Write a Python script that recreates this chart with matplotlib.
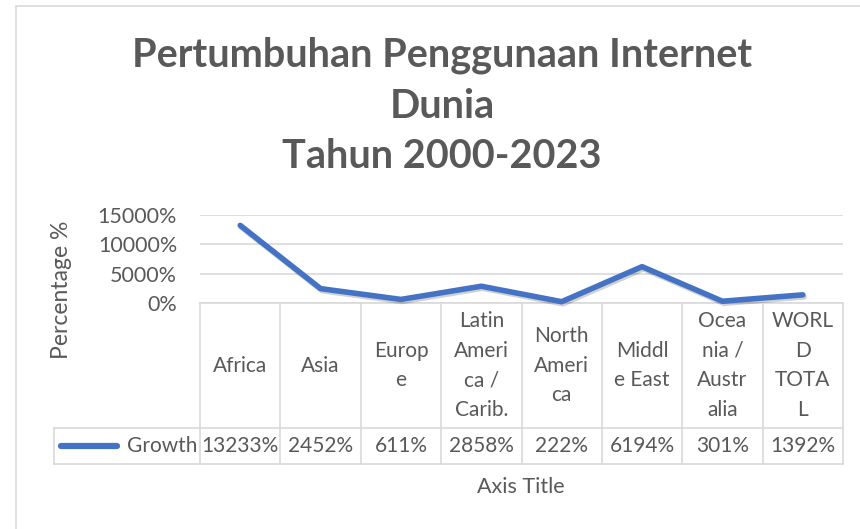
import matplotlib

matplotlib.use("Agg")
import matplotlib.pyplot as plt
import matplotlib.patheffects as pe
from matplotlib.patches import Rectangle
from matplotlib.ticker import FuncFormatter
from matplotlib.transforms import blended_transform_factory

categories = ["Africa", "Asia", "Europe", "Latin America / Carib.", "North America",
              "Middle East", "Oceania / Australia", "WORLD TOTAL"]
cell_labels = ["Africa", "Asia", "Europ\ne", "Latin\nAmeri\nca /\nCarib.", "North\nAmeri\nca",
               "Middl\ne East", "Ocea\nnia /\nAustr\nalia", "WORL\nD\nTOTA\nL"]
growth = [13233, 2452, 611, 2858, 222, 6194, 301, 1392]
series_name = "Growth"
y_ticks = [0, 5000, 10000, 15000]

W, H = 860, 529
TXT = "#595959"
GRID = "#D9D9D9"
BLUE = "#4472C4"
FS = 15
plt.rcParams["font.family"] = ["Lato", "DejaVu Sans"]

fig = plt.figure(figsize=(W / 100, H / 100), dpi=100)
fig.patches.append(Rectangle((16 / W, -0.1), 2, 1.1 - 6 / H, transform=fig.transFigure,
                             fill=False, edgecolor=GRID, lw=1.2))

# plot area in pixels
left, right, top, zero = 200, 843, 215, 303
ax = fig.add_axes([left / W, 1 - zero / H, (right - left) / W, (zero - top) / H])
x = list(range(len(categories)))
ax.plot(x, growth, color=BLUE, lw=4, solid_capstyle="round", solid_joinstyle="round",
        path_effects=[pe.SimpleLineShadow(offset=(1, -1.5), alpha=0.18), pe.Normal()],
        clip_on=False, zorder=3)
ax.set_xlim(-0.5, len(categories) - 0.5)
ax.set_ylim(0, 15000)
ax.set_yticks(y_ticks)
ax.yaxis.set_major_formatter(FuncFormatter(lambda v, _: f"{v:.0f}%"))
ax.tick_params(axis="y", length=0, pad=16.5, labelsize=15.5, labelcolor=TXT)
ax.set_xticks([])
ax.grid(axis="y", color=GRID, lw=1.2)
for s in ax.spines.values():
    s.set_visible(False)

# data table below the plot
tr = blended_transform_factory(ax.transData, ax.transAxes)
h_ax = zero - top
row1 = -(428 - zero) / h_ax
row2 = -(464 - zero) / h_ax
legend_left = (54 - left) / ((right - left) / len(categories)) - 0.5
n = len(categories)
line_kw = dict(color=GRID, lw=1.2, transform=tr, clip_on=False)
ax.plot([-0.5, n - 0.5], [0, 0], **line_kw)
ax.plot([legend_left, n - 0.5], [row1, row1], **line_kw)
ax.plot([legend_left, n - 0.5], [row2, row2], **line_kw)
ax.plot([legend_left, legend_left], [row1, row2], **line_kw)
for i in range(n + 1):
    ax.plot([i - 0.5, i - 0.5], [0, row2], **line_kw)
for i in x:
    ax.text(i, row1 / 2, cell_labels[i], transform=tr, ha="center", va="center",
            fontsize=FS, color=TXT, linespacing=1.6)
    ax.text(i, (row1 + row2) / 2, f"{growth[i]}%", transform=tr, ha="center", va="center",
            fontsize=FS, color=TXT)
ax.plot([legend_left + 0.09, legend_left + 0.78], [(row1 + row2) / 2] * 2, color=BLUE,
        lw=4.5, solid_capstyle="round", transform=tr, clip_on=False)
ax.text(-0.53, (row1 + row2) / 2, series_name, transform=tr, ha="right", va="center",
        fontsize=FS, color=TXT)

fig.text(521 / W, 1 - 487 / H, "Axis Title", ha="center", va="center", fontsize=15.5, color=TXT)
fig.text(62 / W, 1 - 290 / H, "Percentage %", ha="center", va="center", rotation=90,
         fontsize=16.5, color=TXT)
fig.text(442 / W, 1 - 106 / H, "Pertumbuhan Penggunaan Internet\nDunia\nTahun 2000-2023",
         ha="center", va="center", fontsize=28.5, fontweight="bold", color=TXT, linespacing=1.45)

fig.savefig("out.png", dpi=100)
